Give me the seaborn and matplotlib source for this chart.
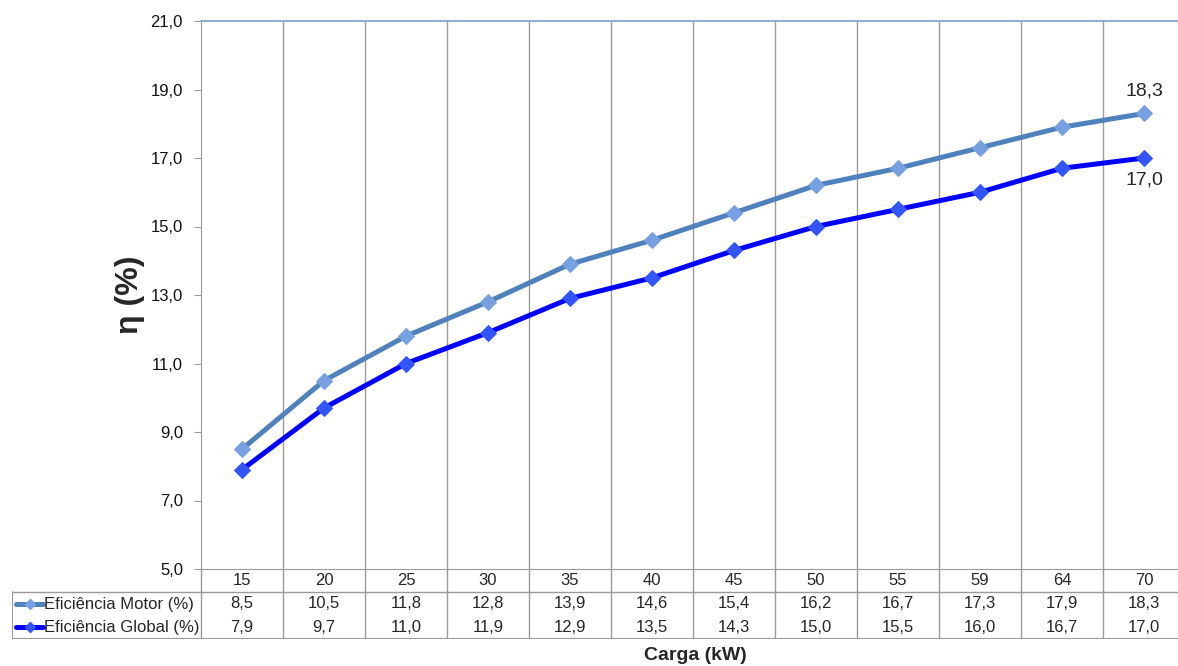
import numpy as np
import pandas as pd
import seaborn as sns
import matplotlib.pyplot as plt

# Data
carga = ['15', '20', '25', '30', '35', '40', '45', '50', '55', '59', '64', '70']
ef_motor = [8.5, 10.5, 11.8, 12.8, 13.9, 14.6, 15.4, 16.2, 16.7, 17.3, 17.9, 18.3]
ef_global = [7.9, 9.7, 11.0, 11.9, 12.9, 13.5, 14.3, 15.0, 15.5, 16.0, 16.7, 17.0]
series_names = ['Eficiência Motor (%)', 'Eficiência Global (%)']
y_ticks = [5, 7, 9, 11, 13, 15, 17, 19, 21]

sns.set_style('white')
plt.rcParams['font.family'] = ['Liberation Sans', 'DejaVu Sans']

W, H = 1178, 666
fig = plt.figure(figsize=(W / 100, H / 100), dpi=100)

# plot area in pixels
left, right, top, bottom = 201, 1185, 21, 569
ax = fig.add_axes([left / W, 1 - bottom / H, (right - left) / W, (bottom - top) / H])

df = pd.DataFrame({
    'pos': list(range(len(carga))) * 2,
    'valor': ef_motor + ef_global,
    'serie': [series_names[0]] * len(carga) + [series_names[1]] * len(carga),
})
line_cols = {series_names[0]: '#4F81BD', series_names[1]: '#0000FF'}
marker_cols = {series_names[0]: '#76A0E0', series_names[1]: '#3355FF'}

for name in series_names:
    d = df[df['serie'] == name]
    sns.lineplot(data=d, x='pos', y='valor', ax=ax, color=line_cols[name], lw=3.6,
                 marker='D', markersize=8, markerfacecolor=marker_cols[name],
                 markeredgecolor=marker_cols[name], legend=False, zorder=3)

ax.set_xlim(-0.5, len(carga) - 0.5)
ax.set_ylim(5, 21)
ax.set_yticks(y_ticks)
ax.set_yticklabels([f'{v:.1f}'.replace('.', ',') for v in y_ticks], fontsize=12, color='#111111')
ax.set_xticks([])
ax.set_xlabel('')
ax.set_ylabel('')
for b in np.arange(0.5, len(carga) - 0.5, 1):
    ax.axvline(b, color='#9a9a9a', lw=1, zorder=1)
for s in ['left', 'right', 'bottom']:
    ax.spines[s].set_color('#9a9a9a')
ax.spines['top'].set_color('#8fb0d8')
ax.spines['top'].set_linewidth(1.5)
ax.tick_params(axis='y', length=5, color='#9a9a9a', pad=8, left=True)

# data labels on last points
ax.text(len(carga) - 1, ef_motor[-1] + 0.4, f'{ef_motor[-1]:.1f}'.replace('.', ','),
        ha='center', va='bottom', fontsize=14)
ax.text(len(carga) - 1, ef_global[-1] - 0.4, f'{ef_global[-1]:.1f}'.replace('.', ','),
        ha='center', va='top', fontsize=14)

fig.text(130 / W, 1 - 295 / H, 'η (%)', rotation=90, ha='center', va='center',
         fontsize=23, fontweight='bold')

# data table below the plot
tl, tb = 12, 639
tax = fig.add_axes([tl / W, 1 - tb / H, (right - tl) / W, (tb - bottom) / H])
x0 = -0.5 - (left - tl) / ((right - left) / len(carga))
tax.set_xlim(x0, len(carga) - 0.5)
tax.set_ylim(3, 0)
tax.axis('off')
gc = '#9a9a9a'
tax.plot([-0.5, -0.5], [0, 3], color=gc, lw=1)
for b in np.arange(0.5, len(carga) - 0.5, 1):
    tax.plot([b, b], [0, 3], color=gc, lw=1)
tax.plot([len(carga) - 0.5] * 2, [0, 3], color=gc, lw=1)
tax.plot([x0, len(carga) - 0.5], [1, 1], color=gc, lw=1)
tax.plot([x0, len(carga) - 0.5], [3, 3], color=gc, lw=1.5)
tax.plot([x0, x0], [1, 3], color=gc, lw=1.5)
for i, c in enumerate(carga):
    tax.text(i, 0.5, c, ha='center', va='center', fontsize=12)
for r, (name, vals) in enumerate(zip(series_names, [ef_motor, ef_global])):
    y = 1.5 + r
    for i, v in enumerate(vals):
        tax.text(i, y, f'{v:.1f}'.replace('.', ','), ha='center', va='center', fontsize=12)
    tax.plot([x0 + 0.05, x0 + 0.38], [y, y], color=line_cols[name], lw=3.6, solid_capstyle='round')
    tax.plot([x0 + 0.215], [y], marker='D', markersize=5, color=marker_cols[name])
    tax.text(x0 + 0.39, y, name, ha='left', va='center', fontsize=12)

fig.text(695 / W, 1 - 655 / H, 'Carga (kW)', ha='center', va='center', fontsize=14, fontweight='bold')

fig.savefig('out.png', dpi=100)
